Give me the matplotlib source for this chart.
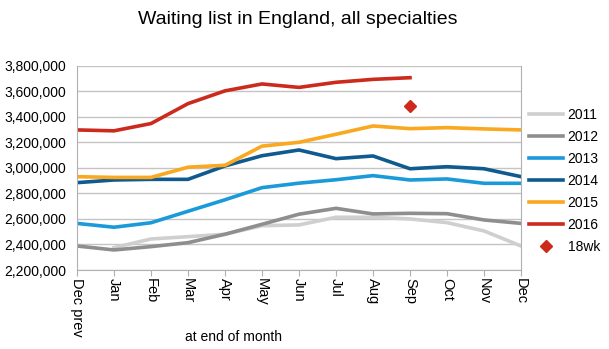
import matplotlib.pyplot as plt
from matplotlib.ticker import FuncFormatter

plt.rcParams['font.family'] = ['Liberation Sans', 'DejaVu Sans']

months = ['Dec prev', 'Jan', 'Feb', 'Mar', 'Apr', 'May', 'Jun',
          'Jul', 'Aug', 'Sep', 'Oct', 'Nov', 'Dec']

y2011 = [None, 2375000, 2443000, 2461000, 2480000, 2547000, 2553000,
         2613000, 2613000, 2600000, 2571000, 2506000, 2388000]
y2012 = [2388000, 2357000, 2383000, 2414000, 2480000, 2558000, 2637000,
         2683000, 2639000, 2644000, 2641000, 2592000, 2565000]
y2013 = [2565000, 2535000, 2570000, 2660000, 2750000, 2845000, 2880000,
         2907000, 2939000, 2905000, 2913000, 2879000, 2879000]
y2014 = [2884000, 2905000, 2910000, 2910000, 3015000, 3095000, 3140000,
         3072000, 3093000, 2993000, 3009000, 2993000, 2931000]
y2015 = [2931000, 2925000, 2925000, 3005000, 3020000, 3170000, 3200000,
         3263000, 3328000, 3307000, 3315000, 3305000, 3297000]
y2016 = [3297000, 3290000, 3347000, 3503000, 3603000, 3657000, 3630000,
         3670000, 3693000, 3706000]
wk18_month = 'Sep'
wk18_value = 3487000

series = [
    ('2011', y2011, '#cfcfcf'),
    ('2012', y2012, '#8e8e8e'),
    ('2013', y2013, '#1b9ad9'),
    ('2014', y2014, '#0f5a8e'),
    ('2015', y2015, '#f9a81f'),
    ('2016', y2016, '#cc2a1c'),
]

fig = plt.figure(figsize=(6.09, 3.49), dpi=100)
ax = fig.add_axes([77 / 609, 1 - 270 / 349, 444 / 609, 204.3 / 349])

x = list(range(len(months)))
for name, vals, color in series:
    xs = [i for i, v in zip(x, vals) if v is not None]
    ys = [v for v in vals if v is not None]
    ax.plot(xs, ys, color=color, lw=2.6, label=name)

ax.plot([months.index(wk18_month)], [wk18_value], linestyle='none', marker='D',
        ms=6, color='#cc2a1c', label='18wk')

ax.set_xlim(0, len(months) - 1)
ax.set_ylim(2200000, 3800000)
ax.set_yticks(range(2200000, 3800001, 200000))
ax.yaxis.set_major_formatter(FuncFormatter(lambda v, p: f'{int(v):,}'))
ax.set_xticks(x)
ax.set_xticklabels(months, rotation=270, va='top', ha='center')
ax.tick_params(axis='x', length=4, color='#b0b0b0', labelsize=10.5, pad=2)
ax.tick_params(axis='y', length=0, labelsize=10, pad=8)
ax.grid(axis='y', color='#c4c4c4', lw=1)
ax.set_axisbelow(True)
for s in ax.spines.values():
    s.set_color('#b0b0b0')
ax.spines['top'].set_visible(False)

fig.text(234 / 609, 1 - 337 / 349, 'at end of month', fontsize=10,
         ha='center', va='center')
fig.text(298 / 609, 1 - 20 / 349, 'Waiting list in England, all specialties',
         fontsize=14, ha='center', va='center')

ax.legend(loc='upper left', bbox_to_anchor=(1.005, 0.82), frameon=False,
          fontsize=10, handlelength=2.5, labelspacing=0.57, handletextpad=0.3,
          borderaxespad=0)

fig.savefig('out.png', dpi=100)
